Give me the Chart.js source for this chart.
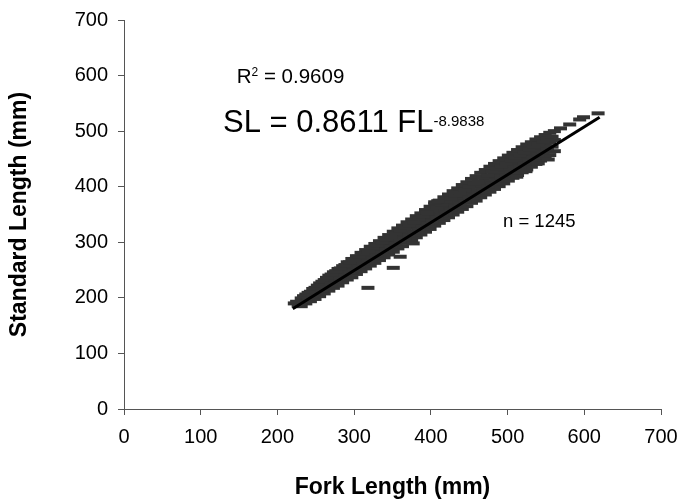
<!DOCTYPE html>
<html>
<head>
<meta charset="utf-8">
<script src="https://cdn.jsdelivr.net/npm/chart.js@4.4.0/dist/chart.umd.min.js"></script>
<style>
  html, body { margin: 0; padding: 0; background: #fff; }
</style>
</head>
<body>
<canvas id="lengths" width="680" height="501"></canvas>
<script>
// fork length (mm) of each column of the band, with the upper, middle and lower
// standard lengths (mm) read off the cloud at that column
var bandFL = [231, 237, 243, 249, 255, 261, 267, 273, 279, 285, 291, 297, 303, 309,
    315, 321, 327, 333, 339, 345, 351, 357, 363, 369, 375, 381, 387, 393, 399, 405,
    411, 417, 423, 429, 435, 441, 447, 453, 459, 465, 471, 477, 483, 489, 495, 501,
    507, 513, 519, 525, 531, 537, 543, 549, 555, 561];
var bandUpper = [199, 206, 211, 218, 226, 232, 240, 246, 252, 257, 264, 270, 275, 281,
    286, 292, 297, 302, 308, 313, 319, 325, 330, 336, 341, 347, 352, 358, 364, 369,
    375, 381, 386, 392, 397, 403, 408, 414, 419, 425, 430, 436, 441, 446, 451, 456,
    461, 466, 471, 476, 480, 485, 489, 493, 497, 500];
var bandMid = [192, 198, 203, 210, 216, 222, 229, 235, 241, 246, 252, 257, 262, 268,
    273, 279, 284, 289, 294, 299, 305, 310, 315, 320, 326, 331, 336, 341, 347, 352,
    357, 363, 368, 373, 378, 384, 389, 394, 400, 405, 410, 416, 421, 426, 431, 436,
    441, 446, 451, 456, 460, 465, 470, 474, 479, 484];
var bandLower = [185, 190, 194, 198, 203, 208, 213, 218, 222, 228, 233, 237, 243, 248,
    253, 258, 263, 268, 273, 278, 283, 289, 293, 299, 304, 309, 314, 319, 324, 330,
    335, 340, 345, 350, 355, 360, 365, 371, 375, 381, 386, 391, 396, 401, 406, 411,
    416, 421, 426, 431, 436, 441, 447, 452, 457, 464];

// columns in between, with the fish seen between the rows above
var bandFL2 = [234, 240, 246, 252, 258, 264, 270, 276, 282, 288, 294, 300, 306, 312,
    318, 324, 330, 336, 342, 348, 354, 360, 366, 372, 378, 384, 390, 396, 402, 408,
    414, 420, 426, 432, 438, 444, 450, 456, 462, 468, 474, 480, 486, 492, 498, 504,
    510, 516, 522, 528, 534, 540, 546, 552, 558];
var bandHigh2 = [203, 209, 216, 222, 229, 236, 242, 248, 253, 259, 264, 269, 274, 279,
    284, 290, 295, 300, 305, 310, 316, 321, 326, 331, 336, 342, 347, 352, 357, 363,
    368, 373, 378, 384, 389, 395, 400, 405, 410, 416, 421, 427, 432, 437, 442, 447,
    452, 457, 462, 467, 472, 477, 481, 486, 490];
var bandLow2 = [194, 199, 204, 209, 214, 219, 225, 230, 235, 240, 245, 250, 256, 261,
    266, 271, 276, 281, 287, 292, 297, 302, 307, 312, 318, 323, 328, 333, 338, 343,
    349, 354, 359, 364, 369, 374, 380, 385, 390, 395, 400, 405, 411, 416, 421, 426,
    431, 436, 441, 447, 452, 457, 462, 467, 472];

// loose fish at the ends and edges of the cloud
var extraFL = [222, 225, 227, 318, 351, 360, 377, 395, 405, 409, 512, 524, 540, 553,
    569, 581, 594, 599, 618];
var extraSL = [190, 193, 186, 218, 254, 274, 298, 354, 372, 374, 418, 428, 442, 449,
    505, 512, 521, 525, 532];

// fitted line SL = 0.8611 FL - 8.9838, ends
var fitFL = [220, 620];
var fitSL = [180.5, 524.9];

var axisMin = 0;
var axisMax = 700;
var axisStep = 100;

var r2Text = '0.9609';
var eqText = 'SL = 0.8611 FL';
var eqPower = '-8.9838';
var nText = 'n = 1245';

var FONT = "'Liberation Sans', Arial, sans-serif";

function pairs(xs, ys) {
    return xs.map(function (x, i) { return { x: x, y: ys[i] }; });
}

var fish = pairs(bandFL, bandUpper)
    .concat(pairs(bandFL, bandMid), pairs(bandFL, bandLower),
        pairs(bandFL2, bandHigh2), pairs(bandFL2, bandLow2),
        pairs(extraFL, extraSL));

// the regression text written inside the plot
var equationText = {
    id: 'equationText',
    afterDatasetsDraw: function (chart) {
        var c = chart.ctx;
        var sx = chart.scales.x, sy = chart.scales.y;
        c.save();
        c.fillStyle = '#000';
        c.textAlign = 'left';
        c.textBaseline = 'alphabetic';

        var px = sx.getPixelForValue(147), py = sy.getPixelForValue(587);
        c.font = '20.5px ' + FONT;
        c.fillText('R', px, py);
        px += c.measureText('R').width;
        c.font = '12px ' + FONT;
        c.fillText('2', px, py - 7);
        px += c.measureText('2').width;
        c.font = '20.5px ' + FONT;
        c.fillText(' = ' + r2Text, px, py);

        px = sx.getPixelForValue(129);
        py = sy.getPixelForValue(499);
        c.font = '31px ' + FONT;
        c.fillText(eqText, px, py);
        px += c.measureText(eqText).width;
        c.font = '15px ' + FONT;
        c.fillText(eqPower, px, py - 6);

        c.font = '18.5px ' + FONT;
        c.fillText(nText, sx.getPixelForValue(494), sy.getPixelForValue(327));
        c.restore();
    }
};

var chart = document.getElementById('lengths').getContext('2d');

var lengthChart = new Chart(chart, {
    type: 'scatter',
    data: {
        datasets: [
            {
                type: 'line',
                data: pairs(fitFL, fitSL),
                borderColor: '#000000',
                borderWidth: 3,
                pointRadius: 0,
                fill: false,
                order: 0
            },
            {
                data: fish,
                pointStyle: 'line',
                pointRadius: 6.5,
                pointBorderWidth: 4,
                pointBorderColor: '#333333',
                pointBackgroundColor: '#333333',
                order: 1
            }
        ]
    },
    options: {
        responsive: false,
        animation: false,
        devicePixelRatio: 1,
        layout: { padding: { top: 20, right: 19, bottom: 0, left: 0 } },
        plugins: { legend: { display: false }, tooltip: { enabled: false } },
        scales: {
            x: {
                type: 'linear',
                min: axisMin,
                max: axisMax,
                ticks: { stepSize: axisStep, color: '#000', padding: 10, maxRotation: 0,
                    font: { family: FONT, size: 20 } },
                grid: { drawOnChartArea: false, drawTicks: true, tickLength: 6, color: '#555' },
                border: { display: true, color: '#555', width: 1 },
                title: { display: true, text: 'Fork Length (mm)', color: '#000', padding: 0,
                    font: { family: FONT, size: 23, weight: 'bold' } },
                afterFit: function (s) {
                    s.height = 92;
                    s.paddingLeft = 0;
                    s.paddingRight = 0;
                }
            },
            y: {
                type: 'linear',
                min: axisMin,
                max: axisMax,
                ticks: { stepSize: axisStep, color: '#000', padding: 10,
                    font: { family: FONT, size: 20 } },
                grid: { drawOnChartArea: false, drawTicks: true, tickLength: 6, color: '#555' },
                border: { display: true, color: '#555', width: 1 },
                title: { display: true, text: 'Standard Length (mm)', color: '#000',
                    padding: { top: 6, bottom: 0 },
                    font: { family: FONT, size: 23, weight: 'bold' } },
                afterFit: function (s) {
                    s.width = 124;
                    s.paddingTop = 0;
                    s.paddingBottom = 0;
                }
            }
        }
    },
    plugins: [equationText]
});
</script>
</body>
</html>
